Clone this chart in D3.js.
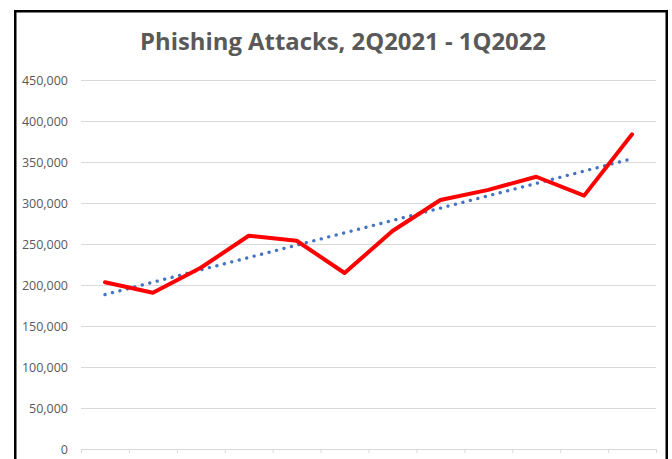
<!DOCTYPE html>
<html>
<head>
<meta charset="utf-8">
<script src="https://cdn.jsdelivr.net/npm/d3@7"></script>
<style>
  html, body { margin: 0; padding: 0; background: #fff; overflow: hidden; }
  svg { display: block; }
</style>
</head>
<body>
<svg id="chart"></svg>
<script>
// monthly phishing attacks, Apr 2021 .. Mar 2022 (no axis labels shown in the picture)
const months = ['Apr', 'May', 'Jun', 'Jul', 'Aug', 'Sep', 'Oct', 'Nov', 'Dec', 'Jan', 'Feb', 'Mar']
const attacks = [203300, 190600, 221000, 260100, 254000, 214600, 265800, 303700, 316000, 332000, 309000, 383800]
const yTicks = [0, 50000, 100000, 150000, 200000, 250000, 300000, 350000, 400000, 450000]
const title = 'Phishing Attacks, 2Q2021 - 1Q2022'

const width = 672, height = 459
const margin = { top: 80, right: 16, bottom: 10, left: 81 }
const w = width - margin.left - margin.right
const h = height - margin.top - margin.bottom

const svg = d3.select('#chart')
  .attr('width', width)
  .attr('height', height)

// outer frame (runs past the bottom of the picture)
svg.append('rect')
  .attr('x', 15.25)
  .attr('y', 11.25)
  .attr('width', 651.5)
  .attr('height', 500)
  .attr('fill', 'none')
  .attr('stroke', '#000')
  .attr('stroke-width', 2.5)

svg.append('text')
  .attr('x', 343)
  .attr('y', 49.5)
  .attr('text-anchor', 'middle')
  .attr('fill', '#595959')
  .attr('textLength', 406)
  .attr('lengthAdjust', 'spacingAndGlyphs')
  .style('font-family', '"Open Sans", sans-serif')
  .style('font-weight', 700)
  .style('font-size', '24px')
  .text(title)

const g = svg.append('g')
  .attr('transform', `translate(${margin.left},${margin.top})`)

const x = d3.scaleBand()
  .domain(months)
  .range([0, w])
const y = d3.scaleLinear()
  .domain([0, 450000])
  .range([h, 0])

// gridlines + labels
const yAxis = d3.axisLeft(y)
  .tickValues(yTicks)
  .tickSize(-w)
  .tickPadding(13)
  .tickFormat(d3.format(','))

g.append('g')
  .attr('class', 'y axis')
  .call(yAxis)
  .call(s => s.select('.domain').remove())
  .call(s => s.selectAll('line').attr('stroke', '#d9d9d9').attr('stroke-width', 1))
  .call(s => s.selectAll('text')
    .attr('fill', '#595959')
    .style('font-family', '"Open Sans", sans-serif')
    .style('font-size', '12.5px'))

// category axis: baseline with tick marks at band edges, no labels
const xEdges = d3.scaleLinear().domain([0, months.length]).range([0, w])
const xAxis = d3.axisBottom(xEdges)
  .tickValues(d3.range(months.length + 1))
  .tickSize(4)
  .tickSizeOuter(0)
  .tickFormat('')

g.append('g')
  .attr('class', 'x axis')
  .attr('transform', `translate(0,${h})`)
  .call(xAxis)
  .call(s => s.selectAll('line, path').attr('stroke', '#d9d9d9'))

const cx = d => x(d) + x.bandwidth() / 2

// linear trendline fitted to the series
const n = attacks.length
const xs = d3.range(1, n + 1)
const mx = d3.mean(xs), my = d3.mean(attacks)
const slope = d3.sum(xs, (v, i) => (v - mx) * (attacks[i] - my)) / d3.sum(xs, v => (v - mx) ** 2)
const icpt = my - slope * mx
const trend = [months[0], months[n - 1]].map((m, i) => ({ m, v: icpt + slope * (i === 0 ? 1 : n) }))

g.append('path')
  .datum(trend)
  .attr('fill', 'none')
  .attr('stroke', '#4472c4')
  .attr('stroke-width', 3.3)
  .attr('stroke-linecap', 'round')
  .attr('stroke-dasharray', '0.1 7.6')
  .attr('d', d3.line().x(d => cx(d.m)).y(d => y(d.v)))

g.append('path')
  .datum(attacks)
  .attr('fill', 'none')
  .attr('stroke', '#ff0000')
  .attr('stroke-width', 4)
  .attr('stroke-linejoin', 'round')
  .attr('stroke-linecap', 'round')
  .attr('d', d3.line().x((d, i) => cx(months[i])).y(d => y(d)))
</script>
</body>
</html>
